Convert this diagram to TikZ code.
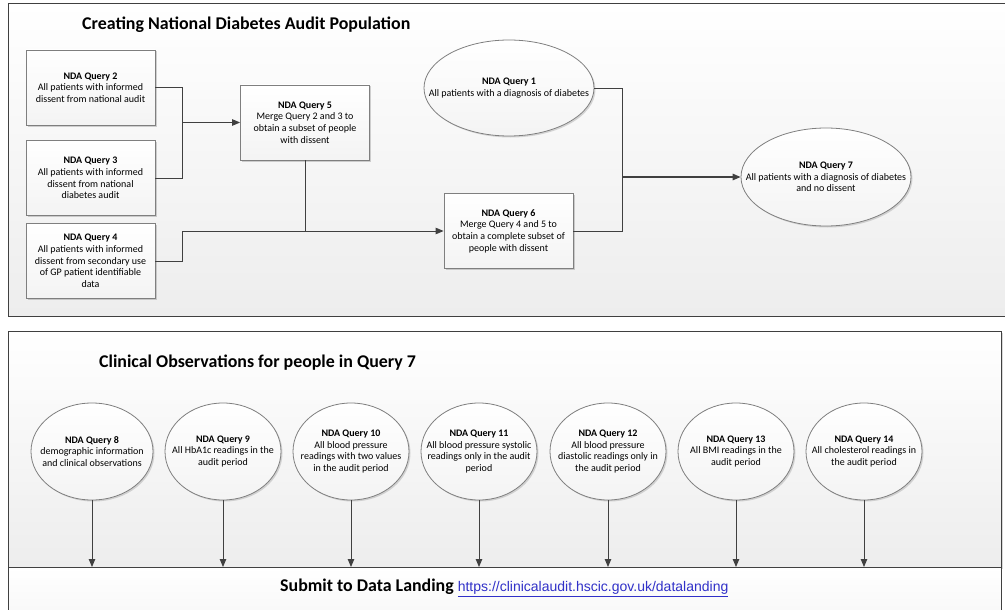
\documentclass[tikz,border=0pt]{standalone}
\usepackage{fontspec}
\setmainfont{Carlito}
\newfontfamily\urlfont{Liberation Sans}
\usetikzlibrary{arrows.meta,shapes.geometric,shadows,calc}
\definecolor{linec}{HTML}{404040}
\definecolor{bordc}{HTML}{7F7F7F}
\definecolor{panelb}{HTML}{EDEDED}
\definecolor{urlc}{HTML}{3030C8}
\tikzset{
  panel/.style={draw=linec, line width=0.9pt, top color=white, bottom color=panelb},
  qbox/.style={rectangle, draw=bordc, line width=0.8pt, top color=white, bottom color=gray!9,
    minimum width=129pt, minimum height=75pt, inner sep=1pt, align=center,
    font=\fontsize{10}{11.7}\selectfont,
    drop shadow={shadow xshift=1.5pt, shadow yshift=-1.5pt, opacity=0.35}},
  qell/.style={ellipse, draw=bordc, line width=0.8pt, top color=white, bottom color=gray!9,
    inner sep=0pt,
    drop shadow={shadow xshift=1.5pt, shadow yshift=-1.5pt, opacity=0.3}},
  qtext/.style={inner sep=0pt, align=center, font=\fontsize{10}{11.7}\selectfont},
  conn/.style={draw=linec, line width=0.9pt},
  arr/.style={conn, -{Triangle[length=8pt,width=6.5pt]}},
  ptitle/.style={font=\fontsize{17.9}{21}\selectfont\bfseries, text=black, anchor=west, inner sep=0pt},
}
\begin{document}
\begin{tikzpicture}[x=1pt,y=-1pt]
\useasboundingbox (0,0) rectangle (1005,610);
% panels
\path[panel] (8,3) rectangle (1012,316);
\path[draw=linec, line width=0.9pt, top color=white, bottom color=panelb,
  drop shadow={shadow xshift=1.5pt, shadow yshift=-1.5pt, opacity=0.3}] (8,331) rectangle (1001,567);
\path[draw=linec, line width=0.9pt, top color=white, bottom color=gray!6] (8,567) rectangle (1001,620);

\node[ptitle] (t1) at (82,25) {Creating National Diabetes Audit Population};
\node[ptitle] (t2) at (99,363) {Clinical Observations for people in Query 7};

% top section nodes
\node[qbox] (q2) at (90.5,87.5) {\textbf{NDA Query 2}\\All patients with informed\\dissent from national audit};
\node[qbox] (q3) at (90.5,178) {\textbf{NDA Query 3}\\All patients with informed\\dissent from national\\diabetes audit};
\node[qbox] (q4) at (90.5,261) {\textbf{NDA Query 4}\\All patients with informed\\dissent from secondary use\\of GP patient identifiable\\data};
\node[qbox] (q5) at (305,122.5) {\textbf{NDA Query 5}\\Merge Query 2 and 3 to\\obtain a subset of people\\with dissent};
\node[qbox] (q6) at (508.5,231) {\textbf{NDA Query 6}\\Merge Query 4 and 5 to\\obtain a complete subset of\\people with dissent};
\node[qell, minimum width=170pt, minimum height=96pt] (q1) at (509,88) {};
\node[qtext] (q1t) at (q1.center) {\textbf{NDA Query 1}\\All patients with a diagnosis of diabetes};
\node[qell, minimum width=170pt, minimum height=98pt] (q7) at (826,177) {};
\node[qtext] (q7t) at (q7.center) {\textbf{NDA Query 7}\\All patients with a diagnosis of diabetes\\and no dissent};

\coordinate (j1) at (182,122.5);
\coordinate (j2) at (305,231);
\coordinate (j3) at (182,231);
\coordinate (j4) at (622,177);

\draw[conn] (q2.east) -| (j1);
\draw[conn] (q3.east) -| (j1);
\draw[arr] (j1) -- (q5.west);
\draw[conn] (q5.south) -- (j2);
\draw[arr] (q4.east) -| (j3) -- (q6.west);
\draw[conn] (q1.east) -| (j4);
\draw[conn] (q6.east) -| (j4);
\draw[arr, line width=1.4pt] (j4) -- (q7.west);

% bottom section
\foreach \n/\x/\w/\t in {
  8/92/122/{\textbf{NDA Query 8}\\demographic information\\and clinical observations},
  9/223/116/{\textbf{NDA Query 9}\\All HbA1c readings in the\\audit period},
  10/351/116/{\textbf{NDA Query 10}\\All blood pressure\\readings with two values\\in the audit period},
  11/479/116/{\textbf{NDA Query 11}\\All blood pressure systolic\\readings only in the audit\\period},
  12/608/116/{\textbf{NDA Query 12}\\All blood pressure\\diastolic readings only in\\the audit period},
  13/736/116/{\textbf{NDA Query 13}\\All BMI readings in the\\audit period},
  14/864/116/{\textbf{NDA Query 14}\\All cholesterol readings in\\the audit period}}{
  \node[qell, minimum width=\w pt, minimum height=97pt] (q\n) at (\x,451.5) {};
  \node[qtext] (q\n t) at (q\n.center) {\t};
  \coordinate (e\n) at (\x,567);
  \draw[arr] (q\n.south) -- (e\n);
}

\node[anchor=west, inner sep=0pt] (sub) at (280,588)
  {\fontsize{17.9}{21}\selectfont\bfseries Submit to Data Landing\ \fontsize{14}{16}\urlfont\mdseries\color{urlc}\underline{https://clinicalaudit.hscic.gov.uk/datalanding}};
\end{tikzpicture}
\end{document}
